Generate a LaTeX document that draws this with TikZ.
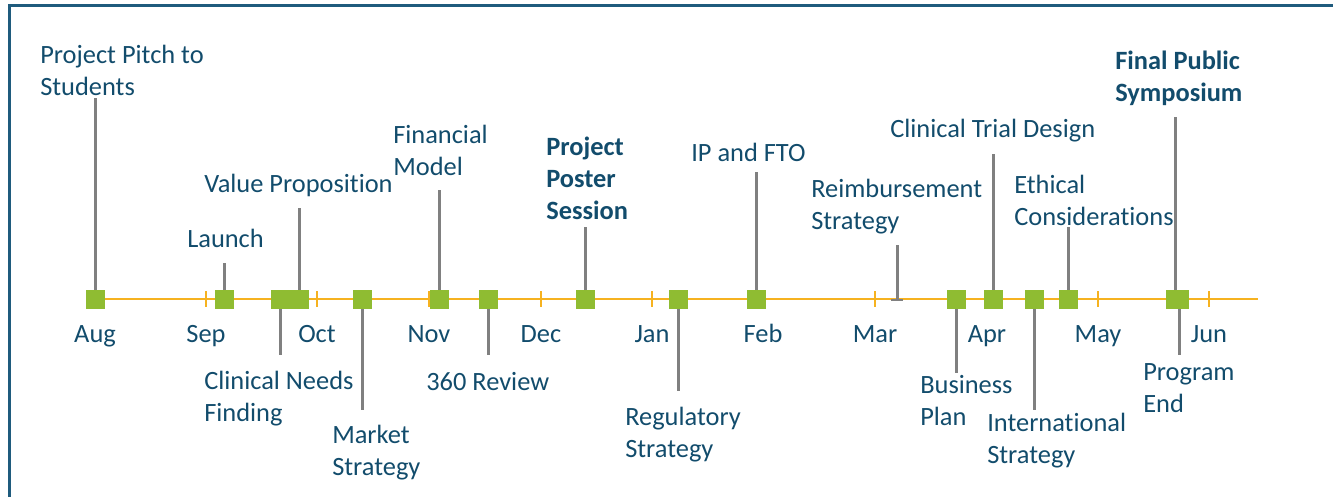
\documentclass[tikz,border=0pt]{standalone}
\usepackage{fontspec}
\setmainfont[Ligatures=CommonOff]{Carlito}
\definecolor{frameblue}{RGB}{31,91,125}
\definecolor{labelblue}{RGB}{18,76,108}
\definecolor{axisorange}{RGB}{246,178,32}
\definecolor{msgreen}{RGB}{143,188,50}
\definecolor{stemgray}{RGB}{128,128,128}
\tikzset{
    msq/.style={fill=msgreen, inner sep=0pt, minimum size=14.25pt},
    stemline/.style={stemgray, line width=2.25pt},
    tickmark/.style={axisorange, line width=1.5pt},
    lbl/.style={labelblue, inner sep=0pt, anchor=north west, align=left, font=\fontsize{19.8}{24}\selectfont},
    blbl/.style={lbl, font=\fontsize{19.8}{24}\selectfont\bfseries},
    month/.style={labelblue, inner sep=0pt, anchor=base, font=\fontsize{19.8}{24}\selectfont},
}

\begin{document}
\begin{tikzpicture}[x=0.75pt, y=-0.75pt]
        \useasboundingbox (0,0) rectangle (1333,496);
        \draw[frameblue, line width=2.25pt] (9,497) -- (9,5) -- (1334,5);
        % axis and month ticks
        \draw[axisorange, line width=1.5pt] (86,299) -- (1258,299);
        \draw[tickmark] (206,291) -- (206,307);
        \draw[tickmark] (317,291) -- (317,307);
        \draw[tickmark] (429,291) -- (429,307);
        \draw[tickmark] (541,291) -- (541,307);
        \draw[tickmark] (652,291) -- (652,307);
        \draw[tickmark] (763,291) -- (763,307);
        \draw[tickmark] (875,291) -- (875,307);
        \draw[tickmark] (987,291) -- (987,307);
        \draw[tickmark] (1098,291) -- (1098,307);
        \draw[tickmark] (1209,291) -- (1209,307);
        \node[month] (maug) at (95,342.7) {Aug};
        \node[month] (msep) at (206,342.7) {Sep};
        \node[month] (moct) at (317,342.7) {Oct};
        \node[month] (mnov) at (429,342.7) {Nov};
        \node[month] (mdec) at (541,342.7) {Dec};
        \node[month] (mjan) at (652,342.7) {Jan};
        \node[month] (mfeb) at (763,342.7) {Feb};
        \node[month] (mmar) at (875,342.7) {Mar};
        \node[month] (mapr) at (987,342.7) {Apr};
        \node[month] (mmay) at (1098,342.7) {May};
        \node[month] (mjun) at (1209,342.7) {Jun};
        % milestones
        \node[msq] (pitch) at (95.5,299.5) {};
        \node[msq] (launch) at (224.5,299.5) {};
        \node[msq] (needs) at (280.5,299.5) {};
        \node[msq] (valprop) at (299.5,299.5) {};
        \node[msq] (market) at (362.5,299.5) {};
        \node[msq] (finance) at (439.5,299.5) {};
        \node[msq] (review) at (488.5,299.5) {};
        \node[msq] (poster) at (585.5,299.5) {};
        \node[msq] (regul) at (678.5,299.5) {};
        \node[msq] (ipfto) at (756.5,299.5) {};
        \node[fill=stemgray, inner sep=0pt, minimum width=9pt, minimum height=1.5pt] (reimb) at (897,299.5) {};
        \node[msq] (business) at (956.5,299.5) {};
        \node[msq] (trial) at (993.5,299.5) {};
        \node[msq] (intl) at (1034.5,299.5) {};
        \node[msq] (ethics) at (1068.5,299.5) {};
        \node[msq] (sympo) at (1175.5,299.5) {};
        \node[msq] (progend) at (1179.5,299.5) {};
        % stems
        \coordinate (pitch-top) at (95.5,98);
        \coordinate (launch-top) at (224.5,263);
        \coordinate (needs-bot) at (280.5,355);
        \coordinate (valprop-top) at (299.5,208);
        \coordinate (market-bot) at (362.5,410);
        \coordinate (finance-top) at (439.5,190);
        \coordinate (review-bot) at (488.5,355);
        \coordinate (poster-top) at (585.5,227);
        \coordinate (regul-bot) at (678.5,391);
        \coordinate (ipfto-top) at (756.5,172);
        \coordinate (reimb-top) at (897,245);
        \coordinate (business-bot) at (956.5,373);
        \coordinate (trial-top) at (993.5,154);
        \coordinate (intl-bot) at (1034.5,410);
        \coordinate (ethics-top) at (1068.5,227);
        \coordinate (sympo-top) at (1175.5,117);
        \coordinate (progend-bot) at (1179.5,355);
        \draw[stemline] (pitch.north) -- (pitch-top);
        \draw[stemline] (launch.north) -- (launch-top);
        \draw[stemline] (needs.south) -- (needs-bot);
        \draw[stemline] (valprop.north) -- (valprop-top);
        \draw[stemline] (market.south) -- (market-bot);
        \draw[stemline] (finance.north) -- (finance-top);
        \draw[stemline] (review.south) -- (review-bot);
        \draw[stemline] (poster.north) -- (poster-top);
        \draw[stemline] (regul.south) -- (regul-bot);
        \draw[stemline] (ipfto.north) -- (ipfto-top);
        \draw[stemline] (reimb.center) -- (reimb-top);
        \draw[stemline] (business.south) -- (business-bot);
        \draw[stemline] (trial.north) -- (trial-top);
        \draw[stemline] (intl.south) -- (intl-bot);
        \draw[stemline] (ethics.north) -- (ethics-top);
        \draw[stemline] (sympo.north) -- (sympo-top);
        \draw[stemline] (progend.south) -- (progend-bot);
        % labels
        \node[lbl] (pitch-l) at (40,45) {Project Pitch to\\Students};
        \node[lbl] (launch-l) at (187,229) {Launch};
        \node[lbl] (valprop-l) at (204,174) {Value Proposition};
        \node[lbl] (finance-l) at (393,125) {Financial\\Model};
        \node[blbl] (poster-l) at (546,137) {Project\\Poster\\Session};
        \node[lbl] (ipfto-l) at (691,143) {IP and FTO};
        \node[lbl] (reimb-l) at (811,179) {Reimbursement\\Strategy};
        \node[lbl] (trial-l) at (890,119) {Clinical Trial Design};
        \node[lbl] (ethics-l) at (1014,175) {Ethical\\Considerations};
        \node[blbl] (sympo-l) at (1115,51) {Final Public\\Symposium};
        \node[lbl] (needs-l) at (204,371) {Clinical Needs\\Finding};
        \node[lbl] (market-l) at (332,425) {Market\\Strategy};
        \node[lbl] (review-l) at (426,372) {360 Review};
        \node[lbl] (regul-l) at (625,407) {Regulatory\\Strategy};
        \node[lbl] (business-l) at (920,375) {Business\\Plan};
        \node[lbl] (intl-l) at (987,413) {International\\Strategy};
        \node[lbl] (progend-l) at (1143,363) {Program\\End};
\end{tikzpicture}
\end{document}
